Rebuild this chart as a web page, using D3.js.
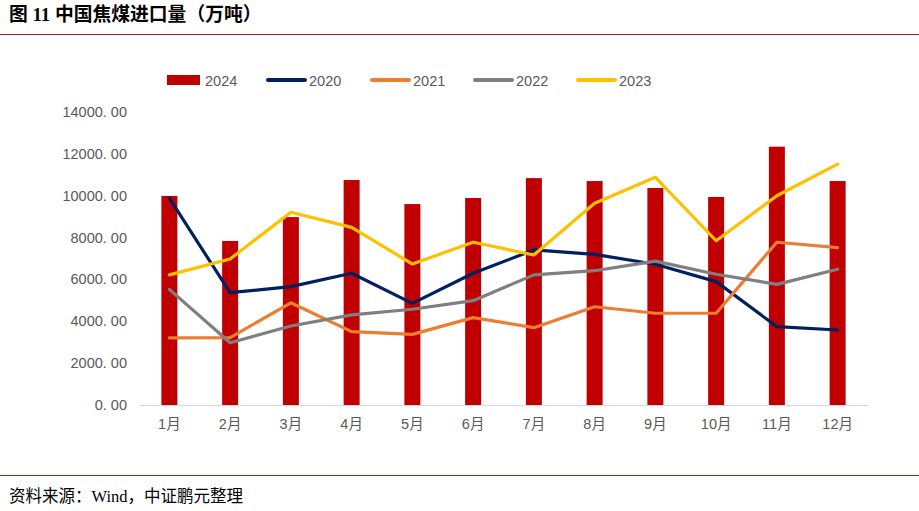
<!DOCTYPE html>
<html>
<head>
<meta charset="utf-8">
<style>
  body { margin: 0; background: #fff; }
  text { font-family: "Liberation Sans", "Noto Sans CJK SC", sans-serif; fill: #595959; }
  .title { font-family: "Liberation Serif", "Noto Sans CJK SC", serif; font-weight: bold; fill: #000; }
  .src { font-family: "Liberation Serif", "Noto Sans CJK SC", serif; fill: #000; }
</style>
</head>
<body>
<script src="https://cdn.jsdelivr.net/npm/d3@7"></script>
<script>

// data
var months = ["1月","2月","3月","4月","5月","6月","7月","8月","9月","10月","11月","12月"];
var v2024 = [9980, 7830, 8970, 10740, 9590, 9880, 10830, 10690, 10360, 9930, 12330, 10690];
var v2020 = [9870, 5360, 5650, 6290, 4850, 6290, 7400, 7190, 6720, 5890, 3740, 3580];
var v2021 = [3200, 3220, 4880, 3500, 3370, 4170, 3690, 4690, 4380, 4380, 7770, 7510];
var v2022 = [5520, 2970, 3770, 4300, 4570, 4980, 6210, 6410, 6870, 6240, 5760, 6480];
var v2023 = [6210, 6970, 9200, 8480, 6730, 7770, 7160, 9630, 10870, 7840, 9990, 11500];
var yTicks = [0, 2000, 4000, 6000, 8000, 10000, 12000, 14000];

var lineSeries = [
  {name: "2020", values: v2020, color: "#002060"},
  {name: "2021", values: v2021, color: "#ED7D31"},
  {name: "2022", values: v2022, color: "#7F7F7F"},
  {name: "2023", values: v2023, color: "#FFC000"}
];

var W = 919, H = 511;
var svg = d3.select("body").append("svg")
    .attr("width", W)
    .attr("height", H);

// title + rules
svg.append("text")
    .attr("class", "title")
    .attr("x", 9)
    .attr("y", 20.5)
    .style("font-size", "18.8px")
    .text("图 11 中国焦煤进口量（万吨）");

svg.append("line")
    .attr("x1", 0).attr("x2", W)
    .attr("y1", 34.5).attr("y2", 34.5)
    .attr("stroke", "#9E1F23").attr("stroke-width", 1);

svg.append("line")
    .attr("x1", 0).attr("x2", W)
    .attr("y1", 475.5).attr("y2", 475.5)
    .attr("stroke", "#9E1F23").attr("stroke-width", 1);

svg.append("text")
    .attr("class", "src")
    .attr("x", 9)
    .attr("y", 502)
    .style("font-size", "16.5px")
    .text("资料来源：Wind，中证鹏元整理");

// scales
var x = d3.scaleBand().domain(months).range([139, 868]);
var y = d3.scaleLinear().domain([0, 14000]).range([405, 111.7]);

// y axis labels (no line)
var yAxis = d3.axisLeft(y)
    .tickValues(yTicks)
    .tickSize(0)
    .tickPadding(0)
    .tickFormat(function(d) { return d3.format(".2f")(d).replace(".", ". "); });

var gy = svg.append("g")
    .attr("transform", "translate(127,0)")
    .call(yAxis);
gy.select(".domain").remove();
gy.selectAll("text").style("font-size", "14.5px").style("fill", "#595959")
    .style("font-family", "\"Liberation Sans\", sans-serif");

// bars
svg.selectAll("rect.bar")
    .data(v2024)
  .enter().append("rect")
    .attr("class", "bar")
    .attr("x", function(d, i) { return x(months[i]) + x.bandwidth() / 2 - 8; })
    .attr("y", function(d) { return y(d); })
    .attr("width", 16)
    .attr("height", function(d) { return y(0) - y(d); })
    .attr("fill", "#C00000");

// x axis
var xAxis = d3.axisBottom(x).tickSize(0).tickPadding(14);
var gx = svg.append("g")
    .attr("transform", "translate(0,405)")
    .call(xAxis);
gx.select(".domain").attr("stroke", "#D9D9D9").attr("stroke-width", 1.2);
gx.selectAll("text").style("font-size", "14.5px").style("fill", "#595959")
    .style("font-family", "\"Liberation Sans\", \"Noto Sans CJK SC\", sans-serif");

// lines
var line = d3.line()
    .x(function(d, i) { return x(months[i]) + x.bandwidth() / 2; })
    .y(function(d) { return y(d); });

lineSeries.forEach(function(s) {
  svg.append("path")
      .datum(s.values)
      .attr("d", line)
      .attr("fill", "none")
      .attr("stroke", s.color)
      .attr("stroke-width", 3.2)
      .attr("stroke-linejoin", "round")
      .attr("stroke-linecap", "round");
});

// legend
var lg = svg.append("g").attr("class", "legend");
lg.append("rect")
    .attr("x", 167).attr("y", 75)
    .attr("width", 33).attr("height", 10)
    .attr("fill", "#C00000");
lg.append("text")
    .attr("x", 205).attr("y", 85.5)
    .style("font-size", "14.5px")
    .text("2024");

var legX = [268, 372, 475, 578];
lineSeries.forEach(function(s, i) {
  lg.append("line")
      .attr("x1", legX[i]).attr("x2", legX[i] + 37)
      .attr("y1", 80).attr("y2", 80)
      .attr("stroke", s.color)
      .attr("stroke-width", 4)
      .attr("stroke-linecap", "round");
  lg.append("text")
      .attr("x", legX[i] + 41).attr("y", 85.5)
      .style("font-size", "14.5px")
      .text(s.name);
});

</script>
</body>
</html>
